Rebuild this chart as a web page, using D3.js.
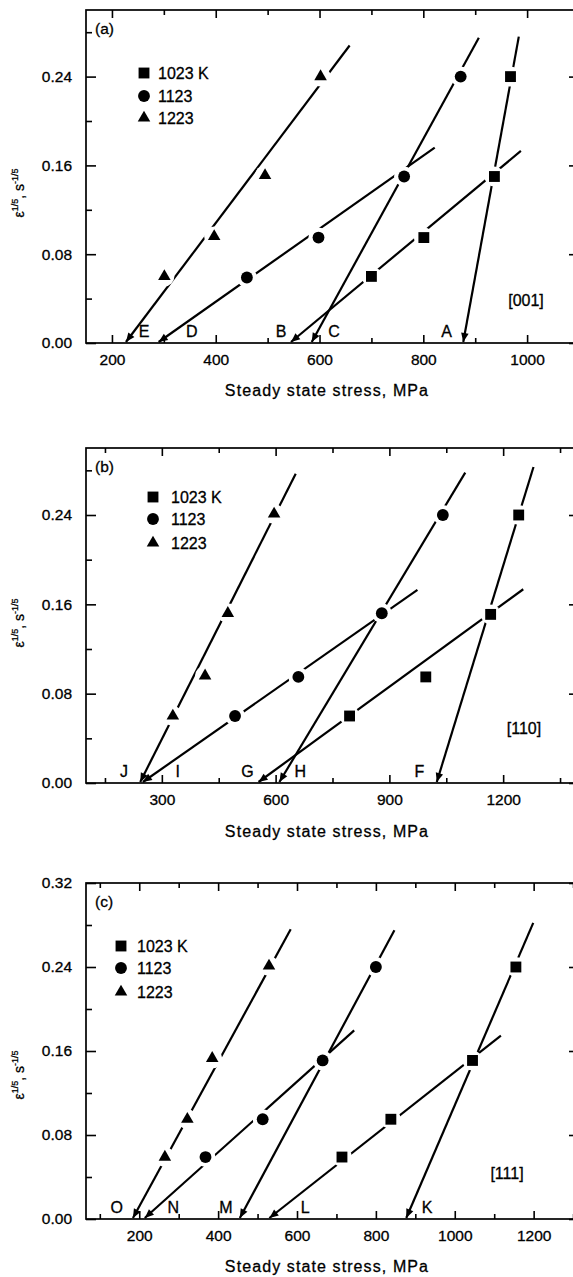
<!DOCTYPE html>
<html>
<head>
<meta charset="utf-8">
<script src="https://cdn.jsdelivr.net/npm/d3@7"></script>
<style>
  body { margin: 0; background: #fff; }
  svg { display: block; font-family: "Liberation Sans", Arial, sans-serif; }
  svg text { stroke: #000; stroke-width: 0.3; }
</style>
</head>
<body>
<svg id="chart" width="573" height="1277"></svg>
<script>
// Legend entries (same in all three panels)
const seriesNames = ['1023 K', '1123', '1223'];

// (a) [001] - points as [steady state stress MPa, strain rate^(1/5)]
const a1023 = [[700, 0.060], [801, 0.095], [937, 0.150], [968, 0.240]];
const a1123 = [[460, 0.059], [598, 0.095], [763, 0.150], [872, 0.240]];
const a1223 = [[301, 0.060], [397, 0.096], [495, 0.151], [602, 0.240]];
// fitted lines: [letter, stress at zero rate, stress at upper end, rate at upper end]
const linesA = [['A', 877, 984, 0.276], ['B', 545, 988, 0.173], ['C', 585, 907, 0.275],
                ['D', 290, 822, 0.176], ['E', 227, 658, 0.268]];
// where each letter sits along the stress axis
const lettersA = [['A', 845], ['B', 526], ['C', 628], ['D', 354], ['E', 262]];

// (b) [110]
const b1023 = [[795, 0.060], [996, 0.095], [1167, 0.151], [1241, 0.240]];
const b1123 = [[493, 0.060], [660, 0.095], [880, 0.152], [1041, 0.240]];
const b1223 = [[329, 0.060], [414, 0.096], [474, 0.152], [596, 0.241]];
const linesB = [['F', 1025, 1280, 0.283], ['G', 555, 1253, 0.1735], ['H', 610, 1100, 0.278],
                ['I', 250, 974, 0.173], ['J', 243, 653, 0.277]];
const lettersB = [['F', 979], ['G', 526], ['H', 665], ['I', 342], ['J', 200]];

// (c) [111]
const c1023 = [[714, 0.059], [838, 0.095], [1045, 0.151], [1155, 0.240]];
const c1123 = [[368, 0.059], [513, 0.095], [665, 0.151], [800, 0.240]];
const c1223 = [[265, 0.059], [322, 0.095], [385, 0.153], [529, 0.241]];
const linesC = [['K', 877, 1199, 0.282], ['L', 530, 1117, 0.1746], ['M', 455, 847, 0.275],
                ['N', 214, 745, 0.1796], ['O', 184, 584, 0.276]];
const lettersC = [['K', 930], ['L', 621], ['M', 420], ['N', 286], ['O', 143]];

// Axis ranges and ticks
const xDomainA = [150, 1100], xMajorA = [200, 400, 600, 800, 1000], xMinorA = [300, 500, 700, 900];
const xDomainB = [100, 1400], xMajorB = [300, 600, 900, 1200], xMinorB = [150, 450, 750, 1050, 1350];
const xDomainC = [65, 1315], xMajorC = [200, 400, 600, 800, 1000, 1200], xMinorC = [100, 300, 500, 700, 900, 1100, 1300];
const yDomainAB = [0, 0.30], yDomainC = [0, 0.32];
const yMajorAB = [0, 0.08, 0.16, 0.24], yMajorC = [0, 0.08, 0.16, 0.24, 0.32];
const yMinor = [0.04, 0.12, 0.20, 0.28];

const panelTags = ['(a)', '(b)', '(c)'];
const directions = ['[001]', '[110]', '[111]'];

// Layout
const frameLeft = 86, frameRight = 579;
const panels = [
  { tag: panelTags[0], dir: directions[0], top: 10, bottom: 343,
    xDomain: xDomainA, xMajor: xMajorA, xMinor: xMinorA, yDomain: yDomainAB, yMajor: yMajorAB,
    series: [a1023, a1123, a1223], lines: linesA, letters: lettersA,
    legend: { x: 144, y: [73, 96, 118], dx: 14 }, dirPos: [526, 306], titleY: 391, yTitleY: 193 },
  { tag: panelTags[1], dir: directions[1], top: 448, bottom: 783,
    xDomain: xDomainB, xMajor: xMajorB, xMinor: xMinorB, yDomain: yDomainAB, yMajor: yMajorAB,
    series: [b1023, b1123, b1223], lines: linesB, letters: lettersB,
    legend: { x: 153, y: [497, 519, 543], dx: 18 }, dirPos: [524, 734], titleY: 832, yTitleY: 623 },
  { tag: panelTags[2], dir: directions[2], top: 883, bottom: 1219,
    xDomain: xDomainC, xMajor: xMajorC, xMinor: xMinorC, yDomain: yDomainC, yMajor: yMajorC,
    series: [c1023, c1123, c1223], lines: linesC, letters: lettersC,
    legend: { x: 121, y: [946, 968, 992], dx: 16 }, dirPos: [507, 1179], titleY: 1267, yTitleY: 1075 }
];

const svg = d3.select('#chart');
const symbolTypes = [d3.symbolSquare, d3.symbolCircle, d3.symbolTriangle];
const symbolSizes = [118, 110, 68];

function styleAxis(sel) {
  sel.select('.domain').remove();
  sel.attr('font-family', null).attr('font-size', null);
  sel.selectAll('line').attr('stroke', '#000').attr('stroke-width', 1.6);
  sel.selectAll('text').attr('fill', '#000').attr('font-size', 15.5);
}

function drawPanel(p) {
  const g = svg.append('g');
  const x = d3.scaleLinear().domain(p.xDomain).range([frameLeft, frameRight]);
  const y = d3.scaleLinear().domain(p.yDomain).range([p.bottom, p.top]);
  const fmtY = d3.format('.2f');

  // ticks, all pointing inward
  g.append('g').attr('transform', `translate(${frameLeft},0)`)
    .call(d3.axisLeft(y).tickValues(p.yMajor).tickSize(-10).tickPadding(14).tickFormat(fmtY)).call(styleAxis);
  g.append('g').attr('transform', `translate(${frameLeft},0)`)
    .call(d3.axisLeft(y).tickValues(yMinor).tickSize(-6).tickFormat('')).call(styleAxis);
  g.append('g').attr('transform', `translate(${frameRight},0)`)
    .call(d3.axisRight(y).tickValues(p.yMajor).tickSize(-10).tickFormat('')).call(styleAxis);
  g.append('g').attr('transform', `translate(${frameRight},0)`)
    .call(d3.axisRight(y).tickValues(yMinor).tickSize(-6).tickFormat('')).call(styleAxis);
  g.append('g').attr('transform', `translate(0,${p.bottom})`)
    .call(d3.axisBottom(x).tickValues(p.xMajor).tickSize(-8).tickPadding(11).tickFormat(d3.format('d'))).call(styleAxis);
  g.append('g').attr('transform', `translate(0,${p.bottom})`)
    .call(d3.axisBottom(x).tickValues(p.xMinor).tickSize(-5).tickFormat('')).call(styleAxis);
  g.append('g').attr('transform', `translate(0,${p.top})`)
    .call(d3.axisTop(x).tickValues(p.xMajor).tickSize(-8).tickFormat('')).call(styleAxis);
  g.append('g').attr('transform', `translate(0,${p.top})`)
    .call(d3.axisTop(x).tickValues(p.xMinor).tickSize(-5).tickFormat('')).call(styleAxis);

  // frame
  g.append('rect')
    .attr('x', frameLeft).attr('y', p.top)
    .attr('width', frameRight - frameLeft).attr('height', p.bottom - p.top)
    .attr('fill', 'none').attr('stroke', '#000').attr('stroke-width', 1.7);

  // fitted lines with arrows at the stress intercept
  p.lines.forEach(([letter, s0, s1, v1]) => {
    const X0 = x(s0), Y0 = y(0) - 1, X1 = x(s1), Y1 = y(v1);
    g.append('line')
      .attr('x1', X0).attr('y1', Y0).attr('x2', X1).attr('y2', Y1)
      .attr('stroke', '#000').attr('stroke-width', 2.2);
    const dx = X0 - X1, dy = Y0 - Y1, L = Math.hypot(dx, dy);
    const ux = dx / L, uy = dy / L, len = 9, hw = 3.8;
    const bx = X0 - ux * len, by = Y0 - uy * len;
    g.append('path')
      .attr('d', `M${X0},${Y0}L${bx - uy * hw},${by + ux * hw}L${bx + uy * hw},${by - ux * hw}Z`)
      .attr('fill', '#000');
  });

  // white halo round the markers, then the markers
  p.series.forEach(pts => {
    g.selectAll(null).data(pts).enter().append('circle')
      .attr('cx', d => x(d[0])).attr('cy', d => y(d[1])).attr('r', 10).attr('fill', '#fff');
  });
  p.series.forEach((pts, i) => {
    g.selectAll(null).data(pts).enter().append('path')
      .attr('transform', d => `translate(${x(d[0])},${y(d[1])})`)
      .attr('d', d3.symbol().type(symbolTypes[i]).size(symbolSizes[i]))
      .attr('fill', '#000');
  });

  // letters at the intercepts
  g.selectAll(null).data(p.letters).enter().append('text')
    .attr('x', d => x(d[1])).attr('y', y(0) - 6)
    .attr('text-anchor', 'middle').attr('font-size', 16)
    .text(d => d[0]);

  // legend
  seriesNames.forEach((name, i) => {
    g.append('path')
      .attr('transform', `translate(${p.legend.x},${p.legend.y[i]})`)
      .attr('d', d3.symbol().type(symbolTypes[i]).size(symbolSizes[i]))
      .attr('fill', '#000');
    g.append('text')
      .attr('x', p.legend.x + p.legend.dx).attr('y', p.legend.y[i] + 5.5)
      .attr('font-size', 16).text(name);
  });

  // panel tag and orientation
  g.append('text').attr('x', frameLeft + 9).attr('y', p.top + 24)
    .attr('font-size', 15.5).text(p.tag);
  g.append('text').attr('x', p.dirPos[0]).attr('y', p.dirPos[1])
    .attr('text-anchor', 'middle').attr('font-size', 16).text(p.dir);

  // axis titles
  g.append('text').attr('x', 327).attr('y', p.titleY + 5)
    .attr('text-anchor', 'middle').attr('font-size', 16).attr('letter-spacing', 1.1)
    .text('Steady state stress, MPa');

  const yt = g.append('text')
    .attr('transform', `translate(24,${p.yTitleY}) rotate(-90)`)
    .attr('text-anchor', 'middle').attr('font-size', 14);
  yt.append('tspan').text('\u03b5');
  yt.append('tspan').attr('font-size', 9).attr('dy', -6).text('1/5');
  yt.append('tspan').attr('dy', 6).text(', s');
  yt.append('tspan').attr('font-size', 9).attr('dy', -6).text('-1/5');
}

panels.forEach(drawPanel);
</script>
</body>
</html>
